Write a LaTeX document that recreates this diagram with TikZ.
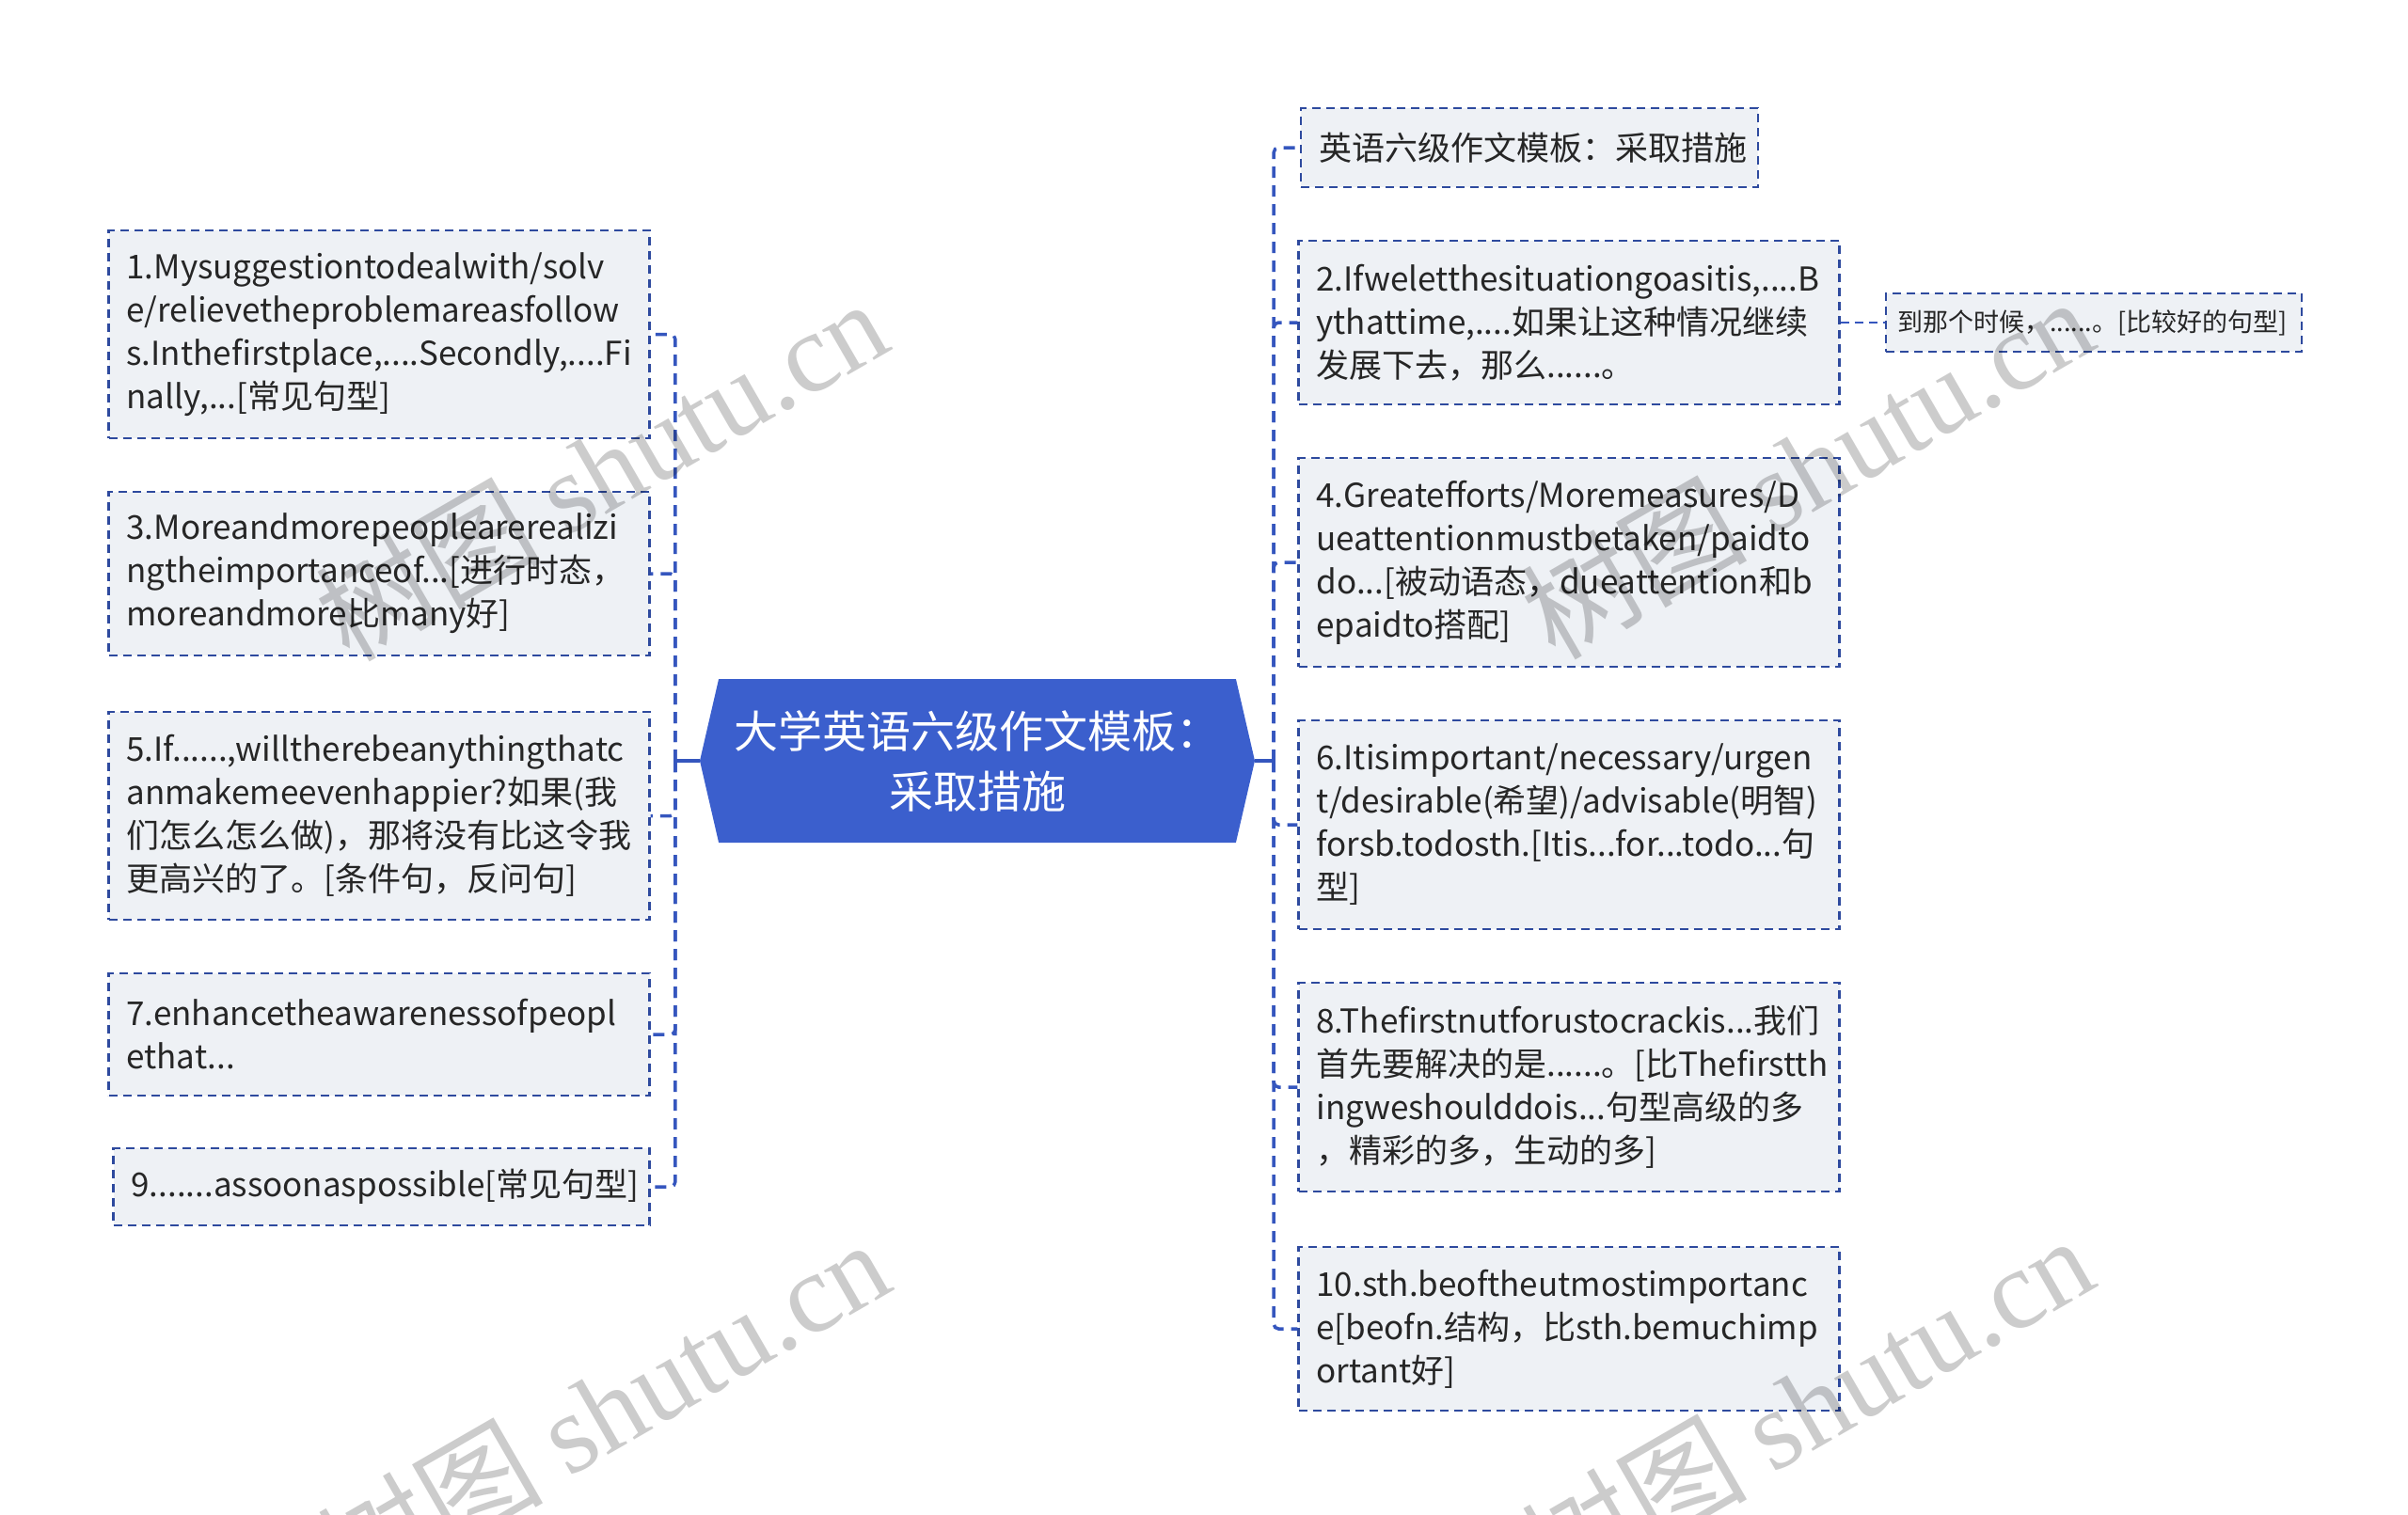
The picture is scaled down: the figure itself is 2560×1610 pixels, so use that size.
\documentclass[tikz,border=0pt]{standalone}
\usepackage{fontspec}
\setmainfont{Noto Sans CJK SC}
\newfontfamily\wmfont{Liberation Serif}
\usetikzlibrary{shapes.symbols}
\definecolor{hexblue}{HTML}{3B5FCD}
\definecolor{linkblue}{HTML}{3556BE}
\definecolor{edgeblue}{HTML}{2E4A9E}
\definecolor{boxgray}{HTML}{EEF1F5}
\definecolor{inkgray}{HTML}{262626}

\begin{document}
\begin{tikzpicture}[
        x=1pt, y=-1pt,
        root/.style={shape=signal, signal to=west and east, signal pointer angle=154,
          fill=hexblue, text=white, align=center, minimum width=590pt, minimum height=174pt,
          font=\fontsize{47}{64}\selectfont},
        topic/.style={draw=edgeblue, dash pattern=on 9pt off 6pt, line width=2.2pt,
          fill=boxgray, text=inkgray, align=left, inner xsep=19pt, inner ysep=0pt,
          text width=#1, font=\fontsize{35}{46}\selectfont},
        topic/.default=537pt,
        note/.style={topic=418pt, inner xsep=12pt, minimum height=62pt, font=\fontsize{27}{36}\selectfont},
        trunk/.style={draw=linkblue, line width=3.5pt},
        branch/.style={trunk, dash pattern=on 12pt off 8pt, rounded corners=5pt},
        wmark/.style={rotate=30, anchor=base east, inner sep=0pt, text=black, text opacity=0.2,
          font=\fontsize{120}{120}\selectfont}
      ]
      \useasboundingbox (0,0) rectangle (2560,1610);

      % centre
      \node[root] (root) at (1039,809) {大学英语六级作文模板：\\采取措施};

      % left side
      \node[topic, minimum height=221pt] (b1) at (403,355.5) {1.Mysuggestiontodealwith/solv\\e/relievetheproblemareasfollow\\s.Inthefirstplace,....Secondly,....Fi\\nally,...[常见句型]};
      \node[topic, minimum height=174pt] (b3) at (403,610) {3.Moreandmorepeoplearerealizi\\ngtheimportanceof...[进行时态，\\moreandmore比many好]};
      \node[topic, minimum height=221pt] (b5) at (403,867.5) {5.If......,willtherebeanythingthatc\\anmakemeevenhappier?如果(我\\们怎么怎么做)，那将没有比这令我\\更高兴的了。[条件句，反问句]};
      \node[topic, minimum height=130pt] (b7) at (403,1100) {7.enhancetheawarenessofpeopl\\ethat...};
      \node[topic=532pt, minimum height=82pt] (b9) at (405.5,1262) {9.......assoonaspossible[常见句型]};

      % right side
      \node[topic=448pt, minimum height=84pt] (r0) at (1626,157) {英语六级作文模板：采取措施};
      \node[topic, minimum height=174pt] (r2) at (1668,343) {2.Ifweletthesituationgoasitis,....B\\ythattime,....如果让这种情况继续\\发展下去，那么......。};
      \node[note] (r2a) at (2226,343) {到那个时候，......。[比较好的句型]};
      \node[topic, minimum height=222pt] (r4) at (1668,598) {4.Greatefforts/Moremeasures/D\\ueattentionmustbetaken/paidto\\do...[被动语态，dueattention和b\\epaidto搭配]};
      \node[topic, minimum height=222pt] (r6) at (1668,877) {6.Itisimportant/necessary/urgen\\t/desirable(希望)/advisable(明智)\\forsb.todosth.[Itis...for...todo...句\\型]};
      \node[topic, minimum height=222pt] (r8) at (1668,1156) {8.Thefirstnutforustocrackis...我们\\首先要解决的是......。[比Thefirstth\\ingweshoulddois...句型高级的多\\，精彩的多，生动的多]};
      \node[topic, minimum height=174pt] (r10) at (1668,1413) {10.sth.beoftheutmostimportanc\\e[beofn.结构，比sth.bemuchimp\\ortant好]};

      % links
      \draw[trunk] (root.west) -- ++(-26,0) coordinate (lhub);
      \draw[trunk] (root.east) -- ++(20,0) coordinate (rhub);
      \foreach \b in {b1,b3,b5,b7,b9}
        \draw[branch] (lhub) |- (\b.east);
      \foreach \r in {r0,r2,r4,r6,r8,r10}
        \draw[branch] (rhub) |- (\r.west);
      \draw[branch, line width=2.2pt, dash pattern=on 9pt off 6pt] (r2.east) -- (r2a.west);

      % watermarks
      \node[wmark] at (952,370) {树图 {\wmfont shutu.cn}};
      \node[wmark] at (2234,368) {树图 {\wmfont shutu.cn}};
      \node[wmark] at (954,1370) {树图 {\wmfont shutu.cn}};
      \node[wmark] at (2234,1366) {树图 {\wmfont shutu.cn}};
    \end{tikzpicture}
\end{document}
